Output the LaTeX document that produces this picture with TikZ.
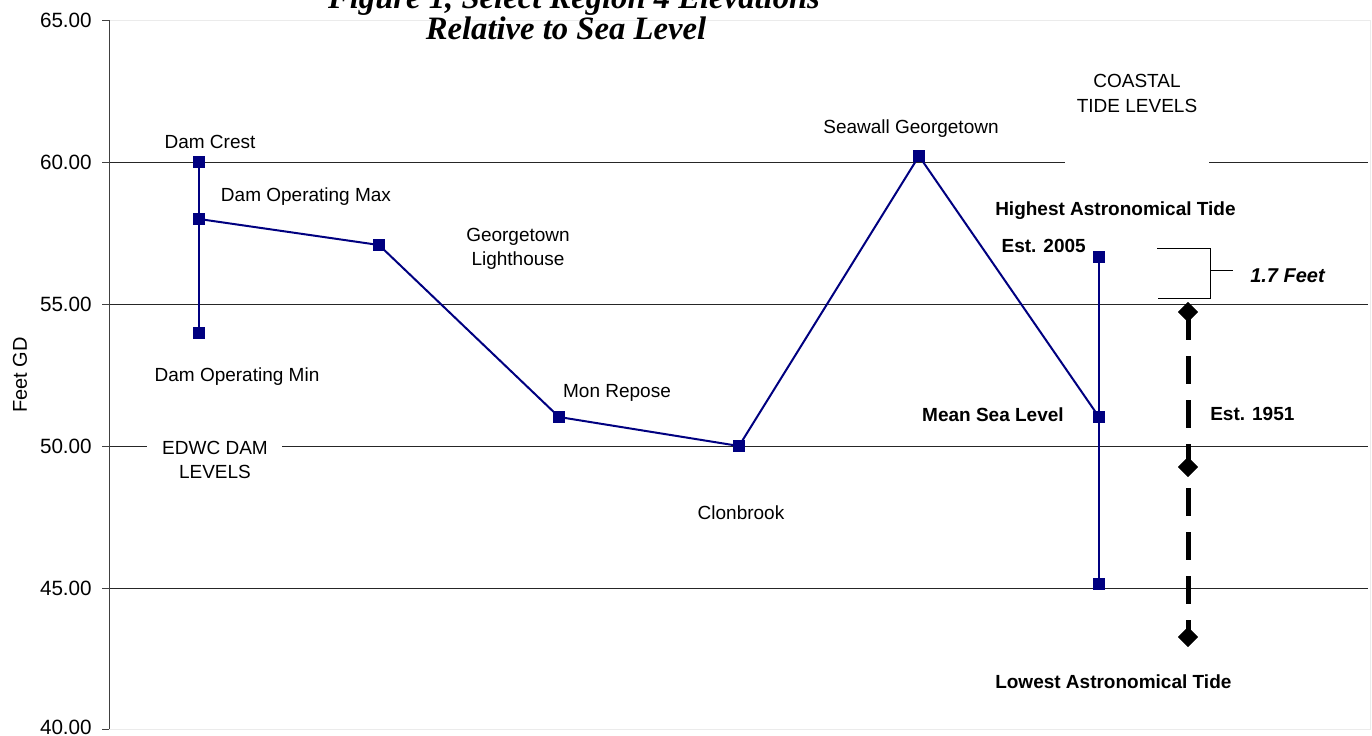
\documentclass[tikz,border=0pt]{standalone}
\usepackage{fontspec}
\setmainfont{Liberation Sans}
\newfontfamily\titlefont{Liberation Serif}
\usetikzlibrary{shapes.geometric}
\definecolor{navyblue}{HTML}{000080}
\begin{document}
\begin{tikzpicture}[x=0.75pt,y=-0.75pt,
  lbl/.style={font=\fontsize{14.25}{17}\selectfont, inner sep=0pt, anchor=base},
  blbl/.style={font=\fontsize{14.25}{17}\selectfont\bfseries, inner sep=0pt, anchor=base},
  ticklbl/.style={font=\fontsize{15.5}{18}\selectfont, inner sep=0pt, anchor=east},
  ttl/.style={font=\titlefont\fontsize{24.5}{28}\selectfont\bfseries\itshape, inner sep=0pt, anchor=base},
  grid/.style={black!85, line width=0.75pt},
  sq/.style={rectangle, fill=navyblue, minimum size=9pt, inner sep=0pt},
  dia/.style={diamond, fill=black, minimum width=15pt, minimum height=15pt, inner sep=0pt},
  series/.style={navyblue, line width=1.5pt},
  tideline/.style={black, line width=3.75pt, dash pattern=on 21pt off 12pt}
]
\clip (0,0) rectangle (1372,736);
\fill[white] (0,0) rectangle (1372,736);

% plot area border (faint)
\draw[black!8, line width=0.75pt] (109,20) rectangle (1370,729);

% gridlines
\draw[grid] (109,162) -- (1065,162);
\draw[grid] (1209,162) -- (1368,162);
\draw[grid] (109,304) -- (1368,304);
\draw[grid] (109,446) -- (147,446);
\draw[grid] (282,446) -- (1368,446);
\draw[grid] (109,588) -- (1368,588);

% axis
\draw[black!75, line width=0.75pt] (109,20) -- (109,729);
\foreach \yy in {20,162,304,446,588,729} \draw[black!75, line width=0.75pt] (102,\yy) -- (109,\yy);
\node[ticklbl] (t65) at (92,20) {65.00};
\node[ticklbl] (t60) at (92,162) {60.00};
\node[ticklbl] (t55) at (92,304) {55.00};
\node[ticklbl] (t50) at (92,446) {50.00};
\node[ticklbl] (t45) at (92,588) {45.00};
\node[ticklbl] (t40) at (92,727) {40.00};
\node[font=\fontsize{15}{18}\selectfont, inner sep=0pt, rotate=90] (ylab) at (20,375) {Feet GD};

% title
\node[ttl] (title1) at (574,8) {Figure 1, Select Region 4 Elevations};
\node[ttl] (title2) at (566,39) {Relative to Sea Level};

% data points
\node[sq] (dcrest) at (199,162) {};
\node[sq] (dmax) at (199,219) {};
\node[sq] (dmin) at (199,333) {};
\node[sq] (glh) at (379,245) {};
\node[sq] (monr) at (559,417) {};
\node[sq] (clon) at (739,446) {};
\node[sq] (seaw) at (919,156) {};
\node[sq] (msl) at (1099,417) {};
\node[sq] (hat) at (1099,257) {};
\node[sq] (lat) at (1099,584) {};

\draw[series] (dcrest.center) -- (dmax.center) -- (dmin.center);
\draw[series] (dmax.center) -- (glh.center) -- (monr.center) -- (clon.center) -- (seaw.center) -- (msl.center);
\draw[series] (hat.center) -- (msl.center) -- (lat.center);

% 1951 tide levels
\node[dia] (d1) at (1188,312) {};
\node[dia] (d2) at (1188,467) {};
\node[dia] (d3) at (1188,637) {};
\draw[tideline] (d1.center) -- (d3.center);
\node[dia] at (d1) {};
\node[dia] at (d2) {};
\node[dia] at (d3) {};

% bracket
\coordinate (bt) at (1157,248);
\coordinate (bb) at (1158,298);
\coordinate (bm) at (1210,270);
\coordinate (be) at (1233,270);
\draw[black, line width=0.75pt] (bt) -- (1210,248) -- (1210,298) -- (bb);
\draw[black, line width=0.75pt] (bm) -- (be);
\node[font=\fontsize{15}{18}\selectfont\bfseries\itshape, inner sep=0pt, anchor=base west] (feet) at (1250,282) {1.7 Feet};

% labels
\node[lbl] (ldcrest) at (210,148) {Dam Crest};
\node[lbl] (ldmax) at (306,201) {Dam Operating Max};
\node[lbl] (ldmin) at (237,381) {Dam Operating Min};
\node[lbl] (ledwc1) at (215,454) {EDWC DAM};
\node[lbl] (ledwc2) at (215,478) {LEVELS};
\node[lbl] (lglh1) at (518,241) {Georgetown};
\node[lbl] (lglh2) at (518,265) {Lighthouse};
\node[lbl] (lmonr) at (617,397) {Mon Repose};
\node[lbl] (lclon) at (741,519) {Clonbrook};
\node[lbl] (lseaw) at (911,133) {Seawall Georgetown};
\node[lbl] (lct1) at (1137,87) {COASTAL};
\node[lbl] (lct2) at (1137,112) {TIDE LEVELS};
\node[blbl, anchor=base west] (lhat) at (995,215) {Highest Astronomical Tide};
\node[blbl, anchor=base east] (lest05) at (1086,252) {Est. 2005};
\node[blbl, anchor=base east] (lmsl) at (1064,421) {Mean Sea Level};
\node[blbl, anchor=base west] (lest51) at (1210,420) {Est. 1951};
\node[blbl, anchor=base west] (llat) at (995,688) {Lowest Astronomical Tide};
\end{tikzpicture}
\end{document}
